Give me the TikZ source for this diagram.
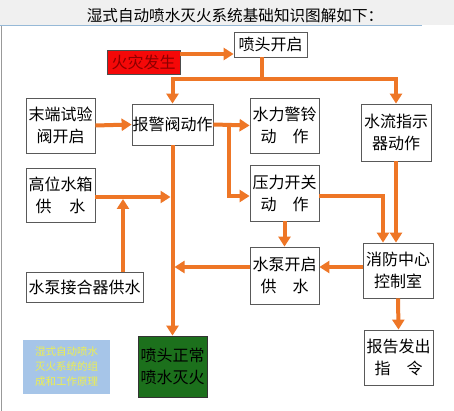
\documentclass[tikz,border=0pt]{standalone}
\usepackage{fontspec}
\setmainfont{Noto Sans CJK SC}
\usetikzlibrary{arrows.meta}
\definecolor{org}{RGB}{238,118,38}
\definecolor{redbox}{RGB}{245,8,8}
\definecolor{redtext}{RGB}{140,0,0}
\definecolor{greenbox}{RGB}{28,112,28}
\definecolor{lblue}{RGB}{166,197,232}
\definecolor{ltext}{RGB}{238,238,80}
\definecolor{topline}{RGB}{150,185,215}
\tikzset{
  box/.style={draw=black!65, line width=0.8pt, fill=white, inner sep=0pt, align=center,
    font=\fontsize{16}{22}\selectfont},
  ln/.style={draw=org, line width=4pt},
  arr/.style={draw=org, line width=4pt, line join=miter, -{Triangle[length=10pt,width=12pt]}},
}
\begin{document}
\begin{tikzpicture}[x=1pt,y=-1pt]
\useasboundingbox (0,0) rectangle (454,411);
\fill[white] (0,0) rectangle (454,411);
\fill[black!6] (0,0) rectangle (454,25);
\draw[topline, line width=1pt] (0,26) -- (422,26);
\draw[black!40, line width=1pt] (1.5,26) -- (1.5,411);
\node (title) at (235,16) {\fontsize{15.6}{18}\selectfont 湿式自动喷水灭火系统基础知识图解如下：};

\node[box, minimum width=73pt, minimum height=25pt] (kai) at (270.5,44.5) {喷头开启};
\node[box, draw=black!70, fill=redbox, text=redtext, minimum width=73pt, minimum height=24pt] (fire) at (143.5,62) {火灾发生};
\node[box, minimum width=69pt, minimum height=55pt] (mo) at (60.5,125.5) {末端试验\\阀开启};
\node[box, minimum width=81pt, minimum height=41pt] (bj) at (172.5,124.5) {报警阀动作};
\node[box, minimum width=69pt, minimum height=55pt] (sl) at (284.5,125.5) {水力警铃\\动\hspace{1em}作};
\node[box, minimum width=70pt, minimum height=57pt] (sz) at (396,132.5) {水流指示\\器动作};
\node[box, minimum width=69pt, minimum height=54pt] (gw) at (60.5,195) {高位水箱\\供\hspace{1.1em}水};
\node[box, minimum width=69pt, minimum height=56pt] (yl) at (284.5,193) {压力开关\\动\hspace{1em}作};
\node[box, minimum width=117pt, minimum height=30pt] (jh) at (84.5,287) {水泵接合器供水};
\node[box, minimum width=69pt, minimum height=57pt] (sb) at (284.5,275.5) {水泵开启\\供\hspace{1em}水};
\node[box, minimum width=70pt, minimum height=55pt] (xf) at (398,270.5) {消防中心\\控制室};
\node[box, minimum width=69pt, minimum height=55pt] (bg) at (398.5,357.5) {报告发出\\指\hspace{1em}令};
\node[box, draw=black!80, fill=greenbox, minimum width=69pt, minimum height=61pt] (pz) at (172.5,366.5) {喷头正常\\喷水灭火};
\node[fill=lblue, text=ltext, inner sep=0pt, align=center, minimum width=87pt, minimum height=54pt,
  font=\fontsize{10.5}{15}\selectfont] (lb) at (66.5,367) {湿式自动喷水\\灭火系统的组\\成和工作原理};

\coordinate (a1) at (0,54);
\coordinate (j1) at (262,79);
\coordinate (j2) at (229,125);
\coordinate (j3) at (229,196);
\coordinate (v1) at (0,197);
\coordinate (v2) at (123,197);
\coordinate (h1) at (0,267);
\coordinate (c1) at (383,196);

\draw[arr] (fire.east |- a1) -- (kai.west |- a1);
\draw[ln] (j1 |- kai.south) -- (j1);
\draw[arr] (j1) -| (bj.north);
\draw[arr] (j1) -| (sz.north);
\draw[arr] (mo.east) -- (bj.west);
\draw[arr] (bj.east) -- (sl.west);
\draw[arr] (j2) -- (j3) -- (j3 -| yl.west);
\draw[arr, shorten >=2pt] (gw.east |- v1) -- (bj.south |- v1);
\draw[arr, shorten >=2pt] (v2 |- jh.north) -- (v2);
\draw[arr] (bj.south) -- (pz.north);
\draw[arr] (yl.south) -- (sb.north);
\draw[arr, shorten >=2pt] (sb.west |- h1) -- (bj.south |- h1);
\draw[arr] (xf.west |- h1) -- (sb.east |- h1);
\draw[arr] (yl.east |- c1) -- (c1) -- (c1 |- xf.north);
\draw[arr] (sz.south) -- (sz.south |- xf.north);
\draw[arr] (xf.south) -- (bg.north);
\end{tikzpicture}
\end{document}
